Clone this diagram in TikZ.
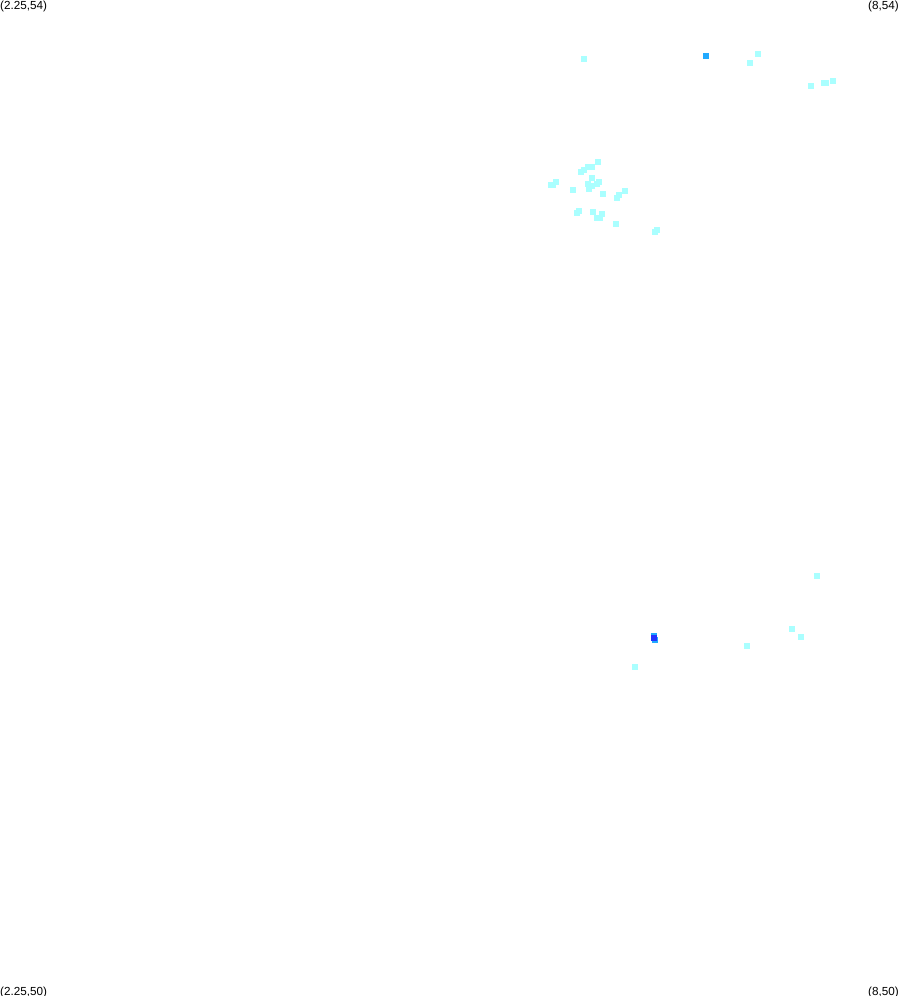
\documentclass[tikz,border=0pt]{standalone}
\usepackage{fontspec}
\setmainfont{Liberation Sans}
\tikzset{
  cornerlabel/.style={inner sep=0pt,font=\fontsize{11.7}{12}\selectfont,text=black},
  pointmark/.style={fill=#1,draw=none},
}
\definecolor{lowc}{HTML}{AAFFFF}
\definecolor{midc}{HTML}{22AAFF}
\definecolor{highc}{HTML}{2233FF}
\newcommand{\pointsq}[3]{\fill[pointmark=#3] (#1-3,#2-3) rectangle (#1+3,#2+3);}
\begin{document}
\begin{tikzpicture}[x=1pt,y=-1pt]
\useasboundingbox (0,0) rectangle (899,996);
\fill[white] (0,0) rectangle (899,996);
\node[cornerlabel,anchor=north west] (tl) at (0,1) {(2.25,54)};
\node[cornerlabel,anchor=north east] (tr) at (899,1) {(8,54)};
\node[cornerlabel,anchor=south west] (bl) at (0,998.5) {(2.25,50)};
\node[cornerlabel,anchor=south east] (br) at (899,998.5) {(8,50)};
\foreach \px/\py in {
 598/162,592/167,588/167,584/170,581/172,592/178,556/182,553/185,551/185,573/190,
 588/184,599/182,597/184,592/186,589/189,603/194,625/191,619/195,617/198,
 579/211,577/213,593/212,602/214,597/218,600/218,616/224,657/230,655/232,
 584/59,758/54,750/63,811/86,824/83,826/83,833/81,
 817/576,792/629,801/637,747/646,635/667}
 {\pointsq{\px}{\py}{lowc}}
\pointsq{706}{56}{midc}
\pointsq{654}{636}{midc}
\pointsq{655}{640}{midc}
\pointsq{654}{638}{highc}
\end{tikzpicture}
\end{document}
